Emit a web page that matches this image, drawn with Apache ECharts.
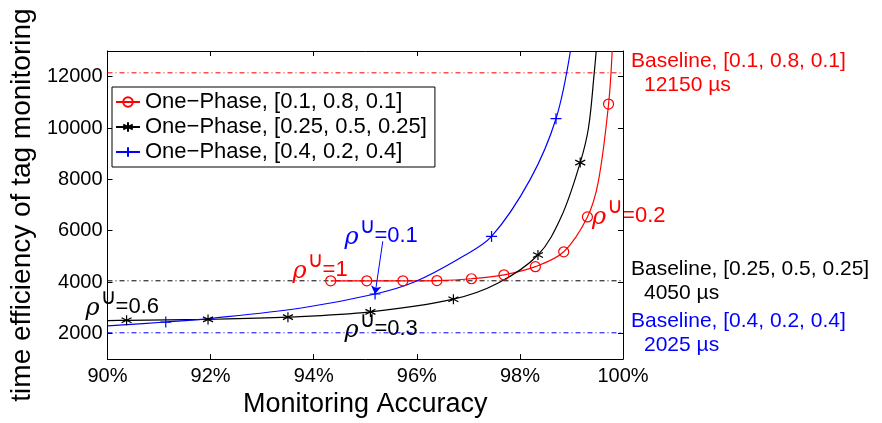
<!DOCTYPE html>
<html>
<head>
<meta charset="utf-8">
<script src="https://cdn.jsdelivr.net/npm/echarts@6/dist/echarts.min.js"></script>
<style>
html, body { margin: 0; padding: 0; background: #fff; }
#main { width: 882px; height: 423px; }
</style>
</head>
<body>
<div id="main"></div>
<script>
var FONT = 'Liberation Sans';

// series names
var names = ['One\u2212Phase, [0.1, 0.8, 0.1]', 'One\u2212Phase, [0.25, 0.5, 0.25]', 'One\u2212Phase, [0.4, 0.2, 0.4]'];
var colors = ['#ff0000', '#000000', '#0000ff'];

// points that carry a marker (accuracy %, time)
var redMarks = [[94.33, 4050], [95.03, 4050], [95.73, 4050], [96.39, 4060], [97.06, 4130], [97.69, 4283], [98.30, 4600], [98.85, 5180], [99.31, 6537], [99.72, 10933]];
var blackMarks = [[90.37, 2510], [91.95, 2547], [93.5, 2634], [95.1, 2839], [96.71, 3333], [98.35, 5055], [99.17, 8653]];
var blueMarks = [[91.13, 2444], [95.19, 3535], [97.45, 5777], [98.70, 10363]];

// extra points (no marker)
var redCurve = [[99.52, 7900], [99.79, 13000]];
var blackCurve = [[90, 2500], [97.56, 3941], [98.8, 6530], [99.33, 10000], [99.44, 12100], [99.48, 13000]];
var blueCurve = [[90, 2292], [92, 2585], [93.76, 2991], [95.95, 4002], [96.85, 4950], [98.2, 8000], [98.98, 13000]];

// baselines
var baseValues = [12150, 4050, 2025];
var baseNames = ['Baseline, [0.1, 0.8, 0.1]', 'Baseline, [0.25, 0.5, 0.25]', 'Baseline, [0.4, 0.2, 0.4]'];
var baseTimes = ['12150 \u00b5s', '4050 \u00b5s', '2025 \u00b5s'];

// axes
var xRange = [90, 100];
var yTicks = [2000, 4000, 6000, 8000, 10000, 12000];

// rho annotations: [x, y, text, color]
var notes = [
    [89.575, 3041, '=0.6', '#000000'],
    [94.595, 2167, '=0.3', '#000000'],
    [93.59, 4485, '=1', '#ff0000'],
    [94.595, 5815, '=0.1', '#0000ff'],
    [99.40, 6594, '=0.2', '#ff0000']
];
// arrow for rho=0.1
var arrowFrom = [95.34, 5587];
var arrowTo = [95.19, 3535];

var starPath = 'path://M0,-6L0,6M-5.2,-3L5.2,3M-5.2,3L5.2,-3';
var plusPath = 'path://M-6,0L6,0M0,-6L0,6';

function build(marks, curve) {
    var pts = marks.map(function (p) { return { v: p, m: true }; })
        .concat(curve.map(function (p) { return { v: p, m: false }; }));
    pts.sort(function (a, b) { return a.v[0] - b.v[0]; });
    return pts.map(function (p) {
        return p.m ? { value: p.v } : { value: p.v, symbol: 'none' };
    });
}

var myChart = echarts.init(document.getElementById('main'));

var curveSeries = [
    {
        name: names[0], type: 'line', data: build(redMarks, redCurve),
        symbol: 'circle', symbolSize: 10,
        itemStyle: { color: 'rgba(255,255,255,0)', borderColor: colors[0], borderWidth: 1.2 },
        lineStyle: { color: colors[0], width: 1.2 }
    },
    {
        name: names[1], type: 'line', data: build(blackMarks, blackCurve),
        symbol: starPath, symbolSize: 10,
        itemStyle: { color: colors[1], borderColor: colors[1], borderWidth: 1.2 },
        lineStyle: { color: colors[1], width: 1.2 }
    },
    {
        name: names[2], type: 'line', data: build(blueMarks, blueCurve),
        symbol: plusPath, symbolSize: 11,
        itemStyle: { color: colors[2], borderColor: colors[2], borderWidth: 1.2 },
        lineStyle: { color: colors[2], width: 1.2 },
        markLine: {
            silent: true, animation: false,
            symbol: ['none', 'arrow'], symbolSize: 8,
            label: { show: false },
            lineStyle: { color: colors[2], type: 'solid', width: 1 },
            data: [[{ coord: arrowFrom }, { coord: arrowTo }]]
        }
    }
];
curveSeries.forEach(function (s) {
    s.smooth = 0.35;
    s.showAllSymbol = true;
    s.z = 3;
});

// baselines as flat dash-dot lines with their label at the end
var baseSeries = baseValues.map(function (v, i) {
    return {
        name: 'base' + i, type: 'line', clip: false, z: 2,
        data: [[xRange[0], v], [xRange[1], v]],
        symbol: 'none',
        lineStyle: { color: colors[i], type: [5, 3, 1, 3], width: 1 },
        itemStyle: { color: colors[i] },
        endLabel: {
            show: true, distance: 8, color: colors[i],
            formatter: '{a|' + baseNames[i] + '}\n{b|' + baseTimes[i] + '}',
            rich: {
                a: { fontSize: 21, fontFamily: FONT, color: colors[i], lineHeight: 24 },
                b: { fontSize: 21, fontFamily: FONT, color: colors[i], lineHeight: 24, padding: [0, 0, 0, 13] }
            }
        }
    };
});

var tickStyle = { inside: true, length: 5, lineStyle: { color: '#000' } };
var lineAx = { show: true, onZero: false, lineStyle: { color: '#000', width: 1 } };

var option = {
    animation: false,
    backgroundColor: '#fff',
    textStyle: { fontFamily: FONT },
    grid: { left: 105, right: 259, top: 51, bottom: 57 },
    legend: {
        data: names, orient: 'vertical', left: 112, top: 87,
        backgroundColor: '#fff', borderColor: '#000', borderWidth: 1, borderRadius: 0,
        padding: [4, 8, 4, 3], itemGap: 3, itemWidth: 24, itemHeight: 12,
        textStyle: { fontSize: 22, color: '#000', fontFamily: FONT }
    },
    xAxis: [
        {
            type: 'value', min: xRange[0], max: xRange[1], interval: 2, position: 'bottom',
            axisLine: lineAx, axisTick: tickStyle, splitLine: { show: false },
            axisLabel: { formatter: '{value}%', fontSize: 20, color: '#000', fontFamily: FONT, margin: 7 },
            name: 'Monitoring Accuracy', nameLocation: 'middle', nameGap: 27,
            nameTextStyle: { fontSize: 27, color: '#000', fontFamily: FONT }
        },
        {
            type: 'value', min: xRange[0], max: xRange[1], interval: 2, position: 'top',
            axisLine: lineAx, axisTick: tickStyle, splitLine: { show: false },
            axisLabel: { show: false }
        }
    ],
    yAxis: [
        {
            type: 'value', min: 1000, max: 13000, position: 'left',
            axisLine: lineAx, splitLine: { show: false },
            axisTick: { inside: true, length: 5, lineStyle: { color: '#000' }, customValues: yTicks },
            axisLabel: {
                fontSize: 20, color: '#000', fontFamily: FONT, margin: 5, customValues: yTicks,
                formatter: function (v) { return String(v); }
            },
            name: 'time efficiency of tag monitoring', nameLocation: 'middle', nameGap: 63,
            nameTextStyle: { fontSize: 28, color: '#000', fontFamily: FONT }
        },
        {
            type: 'value', min: 1000, max: 13000, position: 'right',
            axisLine: lineAx, splitLine: { show: false },
            axisTick: { inside: true, length: 5, lineStyle: { color: '#000' }, customValues: yTicks },
            axisLabel: { show: false }
        }
    ],
    series: baseSeries.concat(curveSeries)
};

myChart.setOption(option);

// rho annotations placed through the axes
var graphics = notes.map(function (n) {
    var p = myChart.convertToPixel({ xAxisIndex: 0, yAxisIndex: 0 }, [n[0], n[1]]);
    return {
        type: 'group', x: p[0], y: p[1], z: 10,
        children: [
            { type: 'text', x: 0, y: 2, style: { text: '\u03c1', fontSize: 24, fontStyle: 'italic', fontFamily: 'DejaVu Serif', fill: n[3], verticalAlign: 'middle' } },
            { type: 'text', x: 15, y: -8, style: { text: '\u222a', fontSize: 22, fontFamily: 'DejaVu Sans', fill: n[3], verticalAlign: 'middle' } },
            { type: 'text', x: 30, y: 0, style: { text: n[2], fontSize: 22, fontFamily: FONT, fill: n[3], verticalAlign: 'middle' } }
        ]
    };
});
myChart.setOption({ graphic: graphics });
</script>
</body>
</html>
